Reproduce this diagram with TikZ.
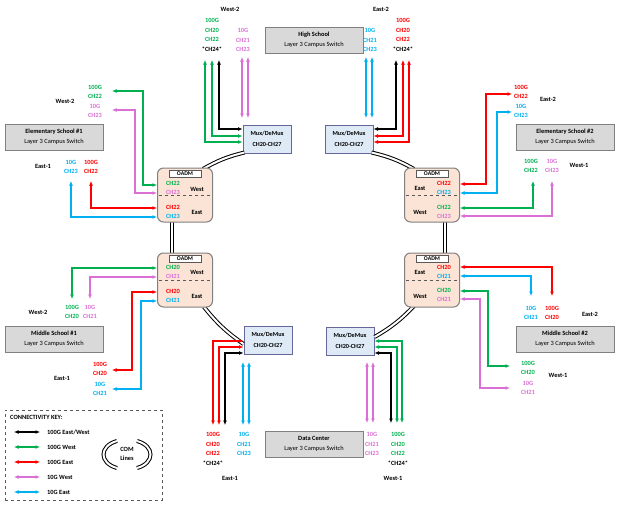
\documentclass[tikz,border=0pt]{standalone}
\usepackage{fontspec}
\setmainfont{Carlito}
\usetikzlibrary{arrows.meta}
\definecolor{cgrn}{RGB}{0,176,80}
\definecolor{cred}{RGB}{255,0,0}
\definecolor{cvio}{RGB}{218,112,214}
\definecolor{cblu}{RGB}{0,176,240}
\definecolor{cpeach}{RGB}{251,228,213}
\definecolor{cmux}{RGB}{222,235,247}
\definecolor{cgray}{RGB}{217,217,217}
\tikzset{
  lnk/.style={<->,>={Latex[length=4.5pt,width=4pt]},line width=1.3pt},
  grn/.style={lnk,draw=cgrn},
  rd/.style={lnk,draw=cred},
  vio/.style={lnk,draw=cvio},
  blu/.style={lnk,draw=cblu},
  blk/.style={lnk,draw=black},
  com/.style={draw=black,double=white,double distance=2pt,line width=1pt},
  txt/.style={font=\fontsize{6.4}{9.8}\selectfont\bfseries,align=center,inner sep=0pt},
  school/.style={draw=gray,line width=1pt,fill=cgray,minimum width=98pt,minimum height=26pt,align=center,font=\fontsize{6.4}{10.5}\selectfont,inner sep=1pt},
  mux/.style={draw=gray!80!blue,line width=1pt,fill=cmux,minimum width=48pt,minimum height=28pt,align=center,font=\fontsize{6.2}{11}\selectfont\bfseries,inner sep=1pt},
  oadm/.style={draw=gray,line width=1pt,fill=cpeach,rounded corners=6pt,minimum width=55pt,minimum height=54pt},
  tag/.style={draw=gray!70!black,fill=white,minimum width=32pt,minimum height=7pt,inner sep=0pt,font=\fontsize{5.8}{6}\selectfont\bfseries}
}
\begin{document}
\begin{tikzpicture}[x=1pt,y=-1pt]
\useasboundingbox (0,0) rectangle (622,506);

% ring
\node[mux] (MuxTL) at (267,139) {Mux/DeMux\\CH20-CH27};
\node[mux] (MuxTR) at (349,139) {Mux/DeMux\\CH20-CH27};
\node[mux] (MuxBL) at (268,340) {Mux/DeMux\\CH20-CH27};
\node[mux] (MuxBR) at (350,341) {Mux/DeMux\\CH20-CH27};
\draw[com] (MuxTL.south west) ++(2,-1) to[bend right=8] (203,169);
\draw[com] (MuxTR.south east) ++(-2,-1) to[bend left=8] (414,169);
\draw[com] (MuxBL.west) ++(0,4) to[bend left=8] (204,307);
\draw[com] (MuxBR.east) ++(0,-4) to[bend right=8] (414,306);
\draw[com] (172,222) -- (172,254);
\draw[com] (445,222) -- (445,254);

\node[oadm] (OadmTL) at (185,195) {};
\node[oadm] (OadmTR) at (432,195) {};
\node[oadm] (OadmBL) at (185,280) {};
\node[oadm] (OadmBR) at (432,280) {};
\foreach \o in {OadmTL,OadmTR,OadmBL,OadmBR}{
  \node[tag] at ([yshift=-6pt]\o.north) {OADM};
  \draw[dashed,gray!70!black,line width=0.6pt] ([xshift=2pt]\o.west) -- ([xshift=-2pt]\o.east);
}
% oadm labels
\node[txt] at (173,188) {\textcolor{cgrn}{CH22}\\\textcolor{cvio}{CH23}};
\node[txt] at (197,189) {West};
\node[txt] at (173,212) {\textcolor{cred}{CH22}\\\textcolor{cblu}{CH23}};
\node[txt] at (197,212) {East};
\node[txt] at (444,188) {\textcolor{cred}{CH22}\\\textcolor{cblu}{CH23}};
\node[txt] at (420,188) {East};
\node[txt] at (444,212) {\textcolor{cgrn}{CH22}\\\textcolor{cvio}{CH23}};
\node[txt] at (420,212) {West};
\node[txt] at (173,272) {\textcolor{cgrn}{CH20}\\\textcolor{cvio}{CH21}};
\node[txt] at (197,272) {West};
\node[txt] at (173,296) {\textcolor{cred}{CH20}\\\textcolor{cblu}{CH21}};
\node[txt] at (197,296) {East};
\node[txt] at (444,272) {\textcolor{cred}{CH20}\\\textcolor{cblu}{CH21}};
\node[txt] at (420,272) {East};
\node[txt] at (444,295) {\textcolor{cgrn}{CH20}\\\textcolor{cvio}{CH21}};
\node[txt] at (420,296) {West};

% schools
\node[school] (HighSchool) at (314,40) {\textbf{High School}\\Layer 3 Campus Switch};
\node[school] (Elem1) at (54,137) {\textbf{Elementary School \#1}\\Layer 3 Campus Switch};
\node[school] (Elem2) at (565,137) {\textbf{Elementary School \#2}\\Layer 3 Campus Switch};
\node[school] (Middle1) at (54,339) {\textbf{Middle School \#1}\\Layer 3 Campus Switch};
\node[school] (Middle2) at (565,339) {\textbf{Middle School \#2}\\Layer 3 Campus Switch};
\node[school] (DataCenter) at (314,444) {\textbf{Data Center}\\Layer 3 Campus Switch};

% high school
\node[txt] at (230,9) {West-2};
\node[txt] at (212,35) {\textcolor{cgrn}{100G}\\\textcolor{cgrn}{CH20}\\\textcolor{cgrn}{CH22}\\*CH24*};
\node[txt] at (243,40) {\textcolor{cvio}{10G}\\\textcolor{cvio}{CH21}\\\textcolor{cvio}{CH23}};
\node[txt] at (381,9) {East-2};
\node[txt] at (370,40) {\textcolor{cblu}{10G}\\\textcolor{cblu}{CH21}\\\textcolor{cblu}{CH23}};
\node[txt] at (403,35) {\textcolor{cred}{100G}\\\textcolor{cred}{CH20}\\\textcolor{cred}{CH22}\\*CH24*};
\draw[blk] (219,60) -- (219,129) -- (MuxTL.west |- 0,129);
\draw[grn] (212,60) -- (212,136) -- (MuxTL.west |- 0,136);
\draw[grn] (205,60) -- (205,142) -- (MuxTL.west |- 0,142);
\foreach \x in {242,248} \draw[vio] (\x,57) -- (\x,118);
\foreach \x in {366,372} \draw[blu] (\x,57) -- (\x,118);
\draw[blk] (396,60) -- (396,129) -- (MuxTR.east |- 0,129);
\draw[rd] (403,60) -- (403,136) -- (MuxTR.east |- 0,136);
\draw[rd] (409,60) -- (409,142) -- (MuxTR.east |- 0,142);

% elementary 1
\node[txt] at (65,101) {West-2};
\node[txt] at (95,92) {\textcolor{cgrn}{100G}\\\textcolor{cgrn}{CH22}};
\node[txt] at (95,111) {\textcolor{cvio}{10G}\\\textcolor{cvio}{CH23}};
\node[txt] at (43,166) {East-1};
\node[txt] at (71,167) {\textcolor{cblu}{10G}\\\textcolor{cblu}{CH23}};
\node[txt] at (91,167) {\textcolor{cred}{100G}\\\textcolor{cred}{CH22}};
\draw[grn] (112,91) -- (143,91) -- (143,185) -- (OadmTL.west |- 0,185);
\draw[vio] (112,110) -- (135,110) -- (135,193) -- (OadmTL.west |- 0,193);
\draw[rd] (91,181) -- (91,208) -- (OadmTL.west |- 0,208);
\draw[blu] (71,181) -- (71,217) -- (OadmTL.west |- 0,217);

% elementary 2
\node[txt] at (548,99) {East-2};
\node[txt] at (521,92) {\textcolor{cred}{100G}\\\textcolor{cred}{CH22}};
\node[txt] at (521,111) {\textcolor{cblu}{10G}\\\textcolor{cblu}{CH23}};
\node[txt] at (579,165) {West-1};
\node[txt] at (531,166) {\textcolor{cgrn}{100G}\\\textcolor{cgrn}{CH22}};
\node[txt] at (552,166) {\textcolor{cvio}{10G}\\\textcolor{cvio}{CH23}};
\draw[rd] (OadmTR.east |- 0,184) -- (486,184) -- (486,94) -- (512,94);
\draw[blu] (OadmTR.east |- 0,193) -- (497,193) -- (497,112) -- (512,112);
\draw[grn] (533,181) -- (533,208) -- (OadmTR.east |- 0,208);
\draw[vio] (552,181) -- (552,216) -- (OadmTR.east |- 0,216);

% middle 1
\node[txt] at (38,312) {West-2};
\node[txt] at (72,312) {\textcolor{cgrn}{100G}\\\textcolor{cgrn}{CH20}};
\node[txt] at (90,312) {\textcolor{cvio}{10G}\\\textcolor{cvio}{CH21}};
\node[txt] at (62,378) {East-1};
\node[txt] at (100,369) {\textcolor{cred}{100G}\\\textcolor{cred}{CH20}};
\node[txt] at (100,389) {\textcolor{cblu}{10G}\\\textcolor{cblu}{CH21}};
\draw[grn] (OadmBL.west |- 0,268) -- (72,268) -- (72,299);
\draw[vio] (OadmBL.west |- 0,277) -- (90,277) -- (90,299);
\draw[rd] (OadmBL.west |- 0,292) -- (132,292) -- (132,370) -- (112,370);
\draw[blu] (OadmBL.west |- 0,301) -- (141,301) -- (141,389) -- (112,389);

% middle 2
\node[txt] at (590,314) {East-2};
\node[txt] at (531,313) {\textcolor{cblu}{10G}\\\textcolor{cblu}{CH21}};
\node[txt] at (552,313) {\textcolor{cred}{100G}\\\textcolor{cred}{CH20}};
\node[txt] at (558,375) {West-1};
\node[txt] at (528,368) {\textcolor{cgrn}{100G}\\\textcolor{cgrn}{CH20}};
\node[txt] at (528,388) {\textcolor{cvio}{10G}\\\textcolor{cvio}{CH21}};
\draw[rd] (OadmBR.east |- 0,267) -- (552,267) -- (552,296);
\draw[blu] (OadmBR.east |- 0,276) -- (531,276) -- (531,296);
\draw[grn] (OadmBR.east |- 0,291) -- (488,291) -- (488,366) -- (510,366);
\draw[vio] (OadmBR.east |- 0,299) -- (480,299) -- (480,388) -- (510,388);

% data center
\node[txt] at (230,478) {East-1};
\node[txt] at (213,449) {\textcolor{cred}{100G}\\\textcolor{cred}{CH20}\\\textcolor{cred}{CH22}\\*CH24*};
\node[txt] at (244,444) {\textcolor{cblu}{10G}\\\textcolor{cblu}{CH21}\\\textcolor{cblu}{CH23}};
\node[txt] at (393,478) {West-1};
\node[txt] at (372,444) {\textcolor{cvio}{10G}\\\textcolor{cvio}{CH21}\\\textcolor{cvio}{CH23}};
\node[txt] at (398,449) {\textcolor{cgrn}{100G}\\\textcolor{cgrn}{CH20}\\\textcolor{cgrn}{CH22}\\*CH24*};
\draw[rd] (213,425) -- (213,341) -- (MuxBL.west |- 0,341);
\draw[rd] (219,425) -- (219,347) -- (MuxBL.west |- 0,347);
\draw[blk] (225,425) -- (225,353) -- (MuxBL.west |- 0,353);
\foreach \x in {243,249} \draw[blu] (\x,362) -- (\x,425);
\foreach \x in {367,373} \draw[vio] (\x,362) -- (\x,423);
\draw[grn] (402,423) -- (402,341) -- (MuxBR.east |- 0,341);
\draw[grn] (397,423) -- (397,347) -- (MuxBR.east |- 0,347);
\draw[blk] (391,423) -- (391,353) -- (MuxBR.east |- 0,353);

% key
\node[draw=gray!70!black,dashed,line width=0.7pt,minimum width=157pt,minimum height=90pt] (Key) at (83.5,455) {};
\node[txt,anchor=west] at (10,417) {CONNECTIVITY KEY:};
\foreach \s/\t [count=\i] in {blk/{100G East/West},grn/{100G West},rd/{100G East},vio/{10G West},blu/{10G East}}{
  \draw[\s] (14,417+15*\i) -- (40,417+15*\i);
  \node[txt,anchor=west] at (47,417+15*\i) {\t};
}
\draw[com] (117,441) .. controls (99,446) and (99,463) .. (117,468);
\draw[com] (137,441) .. controls (155,446) and (155,463) .. (137,468);
\node[txt] at (127,454) {COM\\Lines};
\end{tikzpicture}
\end{document}
